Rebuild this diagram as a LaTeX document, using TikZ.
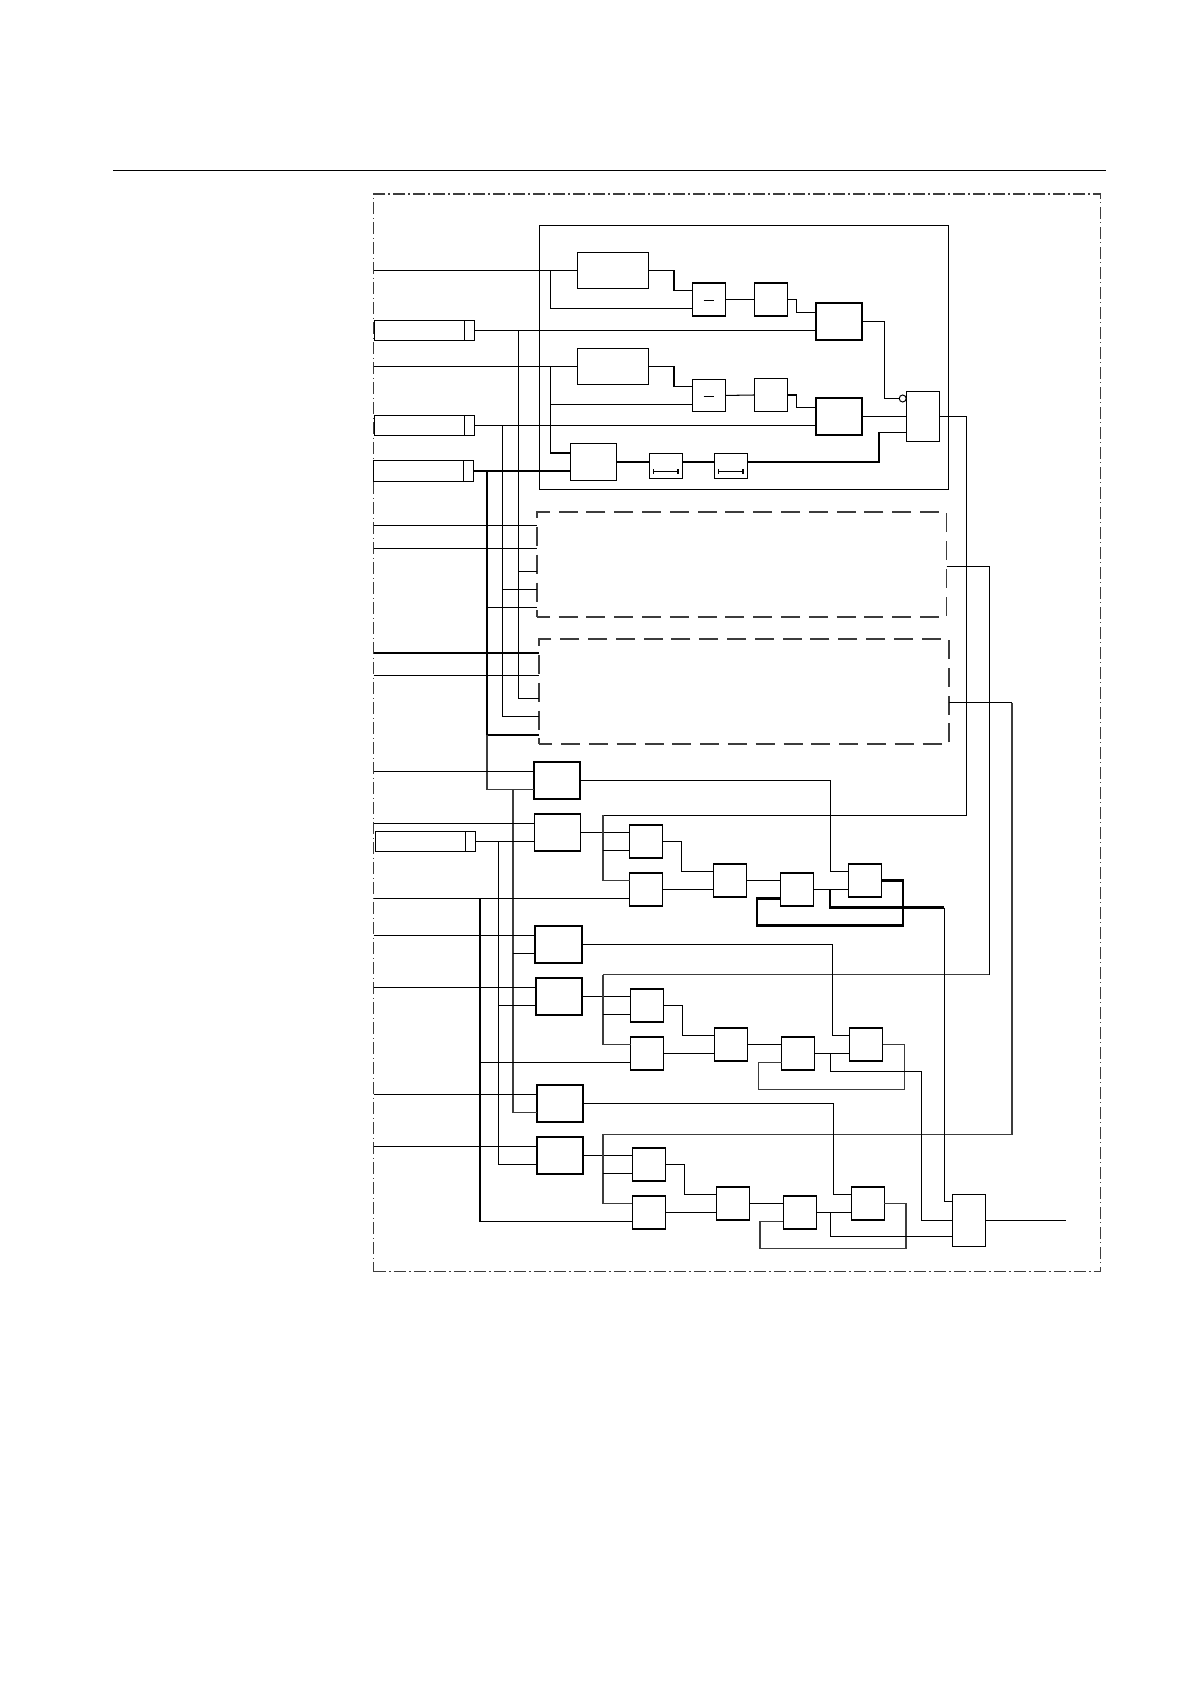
\documentclass[tikz,border=0pt]{standalone}
\usetikzlibrary{calc, positioning}
\definecolor{ruleink}{RGB}{60,60,60}
\tikzset{
  blk/.style={draw, inner sep=0pt, outer sep=0pt, line width=0.55pt},
  heavyblk/.style={blk, line width=0.95pt},
  wire/.style={line width=0.52pt},
  busline/.style={line width=1.05pt},
  grayline/.style={line width=0.8pt, ruleink},
  dashbox/.style={blk, ruleink, line width=0.85pt, dash pattern=on 9.5pt off 4.4pt, dash phase=3pt},
  frameline/.style={blk, ruleink, line width=0.7pt, dash pattern=on 6pt off 1.8pt on 0.7pt off 1.5pt},
}
\begin{document}
\begin{tikzpicture}[x=0.5pt, y=-0.5pt]
  \def\u{0.5pt}
  \useasboundingbox (0,0) rectangle (1191,1684);
  % page rule and outer frame
  \coordinate (ruleL) at (113.3,170.3);
  \coordinate (ruleR) at (1105.7,170.3);
  \draw[wire] (ruleL) -- (ruleR);
  \node[frameline, minimum width=727*\u, minimum height=1077.7*\u] (frame) at (737.2,732.85) {};
  \node[blk, minimum width=409.4*\u, minimum height=264*\u] (unit) at (744,357.3) {};
  % dashed units
  \node[dashbox, minimum width=409.8*\u, minimum height=104.7*\u] (Dashone) at (741.7,564.35) {};
  \node[dashbox, minimum width=409.4*\u, minimum height=104.7*\u] (Dashtwo) at (744,691.65) {};
  \foreach \d in {Dashone,Dashtwo} {
    \foreach \p/\o in {a/-39,b/-16,c/7,d/25,e/43} {
      \coordinate (\d-\p) at ($(\d.west)+(0,\o)$);
    }
  }
  \coordinate (Dashone-out) at ($(Dashone.east)+(0,2)$);
  \coordinate (Dashtwo-out) at ($(Dashtwo.east)+(0,11)$);
  % registers on the left
  \foreach \n/\x/\y in {Rone/424.3/330.45,Rtwo/424.3/425.5,Rthree/423.3/471,Rfour/425.5/841.5} {
    \node[blk, minimum width=100*\u, minimum height=20.4*\u] (\n) at (\x,\y) {};
    \draw[wire] ($(\n.north east)+(-10,0)$) -- ($(\n.south east)+(-10,0)$);
  }
  % blocks of the upper unit
  \foreach \n/\x/\y/\w/\h in {Aone/612.8/270.5/71/36.7,Atwo/612.8/366.4/71/36,
      Subone/708.8/299.5/33/33,Subtwo/708.8/395.45/33/32.4,
      Delone/771/299.5/33.4/33,Deltwo/771/395/33.4/33,
      Bone/593.7/462/46/36.3,Tone/665.7/465.8/32.7/25,Ttwo/730.7/465.8/32.7/25,
      Orb/923/416.5/32.6/50} {
    \node[blk, minimum width=\w*\u, minimum height=\h*\u] (\n) at (\x,\y) {};
  }
  \node[heavyblk, minimum width=46.6*\u, minimum height=36.3*\u] (Andone) at (839,321.45) {};
  \node[heavyblk, minimum width=46.6*\u, minimum height=37.3*\u] (Andtwo) at (839,416.5) {};
  \node[draw, circle, inner sep=0pt, line width=0.5pt, minimum size=7*\u] (Notb) at ($(Orb.west)+(-4,-18)$) {};
  \coordinate (Orb-c) at ($(Orb.west)+(0,16)$);
  % signs inside the blocks
  \foreach \n in {Subone,Subtwo} {
    \draw[wire] ($(\n.center)+(-5.3,1)$) -- ($(\n.center)+(5.3,1)$);
  }
  \foreach \n in {Tone,Ttwo} {
    \draw[wire] ($(\n.center)+(-12,6)$) -- ($(\n.center)+(12,6)$);
    \draw[wire] ($(\n.center)+(-12,3.5)$) -- ($(\n.center)+(-12,8.5)$);
    \draw[line width=0.9pt] ($(\n.center)+(12,3.5)$) -- ($(\n.center)+(12,8.5)$);
  }
  % output block
  \node[blk, minimum width=33*\u, minimum height=51.4*\u] (Kout) at (969.2,1220.5) {};
  \coordinate (Kout-a) at ($(Kout.west)+(0,-19)$);
  \coordinate (Kout-c) at ($(Kout.west)+(0,16)$);
  \coordinate (Kend) at (1065.7,1220.5);
  % the three lower rows
  \foreach \r/\dx/\dy/\tk in {one/0/0/0.55pt,two/1.3/164/0.95pt,three/2.8/323/0.95pt} {
    \node[heavyblk, minimum width=46.3*\u, minimum height=37*\u] (E\r) at (557.2+\dx,780.5+\dy) {};
    \node[blk, line width=\tk, minimum width=46*\u, minimum height=37*\u] (S\r) at (557.5+\dx,832.5+\dy) {};
    \foreach \n/\x/\y in {Ca/646/841.5,Cb/646/889.5,G/730/880.5,H/796.8/889.5,F/864.8/880.5} {
      \node[blk, minimum size=33*\u] (\n\r) at (\x+\dx,\y+\dy) {};
    }
    \foreach \n in {E,S,Ca,Cb,G,H,F} {
      \coordinate (\n\r-a) at ($(\n\r.west)+(0,-9)$);
      \coordinate (\n\r-b) at ($(\n\r.west)+(0,9)$);
    }
  }
  \foreach \n in {Subone,Subtwo,Andone,Andtwo,Bone} {
    \coordinate (\n-a) at ($(\n.west)+(0,-9)$);
    \coordinate (\n-b) at ($(\n.west)+(0,9)$);
  }
  % bus columns
  \coordinate (busA) at (518.3,330.45);
  \coordinate (busB) at (502.3,425.5);
  \coordinate (busC) at (487,471);
  \coordinate (busD) at (513,789.5);
  \coordinate (busE) at (498.3,841.5);
  \coordinate (busF) at (479.7,898.5);
  \coordinate (branch) at (550.3,270.5);
  \coordinate (tap) at (830.3,900);
  \coordinate (upone) at (966.7,815.4);
  \coordinate (uptwo) at (989.3,974.5);
  \coordinate (upthree) at (1012,1134.4);
  \coordinate (retone) at (603,815.4);
  \coordinate (rettwo) at (603,974.5);
  \coordinate (retthree) at (603,1134.4);
  \coordinate (dropone) at (944.3,907.5);
  \coordinate (droptwo) at (921.3,1071.5);
  % upper unit wiring
  \draw[wire] (frame.west |- Aone.west) -- (Aone.west);
  \draw[wire] (frame.west |- Atwo.west) -- (Atwo.west);
  \draw[wire] (branch) |- (Subone-b);
  \draw[wire] (branch |- Atwo.west) |- (Bone-a);
  \draw[wire] (branch |- Subtwo-b) -- (Subtwo-b);
  \foreach \k in {one,two} {
    \draw[wire] (A\k.east) -- ++(25.7,0) |- (Sub\k-a);
    \draw[wire] (Sub\k.east) -- (Del\k.west);
    \draw[wire] (Del\k.east) -- ++(9,0) |- (And\k-a);
    \draw[wire] (R\k.east) -- (And\k-b);
  }
  \draw[busline] (Rthree.east) -- (Bone-b);
  \draw[busline] (Bone.east) -- (Tone.west |- Bone.east);
  \draw[busline] (Tone.east |- Bone.east) -- (Ttwo.west |- Bone.east);
  \draw[busline] (Ttwo.east |- Bone.east) -| ($(Orb-c)+(-27.4,0)$);
  \draw[wire] ($(Orb-c)+(-27.4,0)$) -- (Orb-c);
  \draw[wire] (Andone.east) -- ++(22,0) |- (Notb.west);
  \draw[wire] (Andtwo.east) -- (Orb.west);
  % buses into the dashed units
  \foreach \p in {a,b} {
    \draw[wire] (frame.west |- Dashone-\p) -- (Dashone-\p);
  }
  \draw[busline] (frame.west |- Dashtwo-a) -- (Dashtwo-a);
  \draw[wire] (frame.west |- Dashtwo-b) -- (Dashtwo-b);
  \draw[wire] (busA |- Dashone-c) -- (Dashone-c);
  \draw[wire] (busB |- Dashone-d) -- (Dashone-d);
  \draw[wire] (busC |- Dashone-e) -- (Dashone-e);
  \draw[wire] (busA) |- (Dashtwo-c);
  \draw[wire] (busB) |- (Dashtwo-d);
  \draw[busline] (busC) |- (Dashtwo-e);
  \draw[grayline] (busC |- Dashtwo-e) |- (Eone-b);
  \draw[grayline] (busD) |- (Ethree-b);
  \draw[wire] (busD |- Etwo-b) -- (Etwo-b);
  % returns to the lower rows
  \draw[wire] (Orb.east) -| (upone) -- (retone);
  \draw[wire] (Dashone-out) -| (uptwo);
  \draw[grayline] (uptwo) -- (rettwo);
  \draw[wire] (Dashtwo-out) -- (upthree |- Dashtwo-out);
  \draw[grayline] (upthree |- Dashtwo-out) -- (upthree) -- (retthree);
  % lower row wiring
  \foreach \r in {one,two,three} {
    \draw[wire] (frame.west |- E\r-a) -- (E\r-a);
    \draw[wire] (frame.west |- S\r-a) -- (S\r-a);
    \draw[wire] (E\r.east) -| ($(F\r-a)+(-17.5,0)$) -- (F\r-a);
    \draw[wire] (S\r.east) -- (Ca\r-a);
    \draw[grayline] (ret\r) |- (Cb\r-a);
    \draw[wire] (ret\r |- Ca\r-b) -- (Ca\r-b);
    \draw[wire] (Ca\r.east) -- ++(19,0) |- (G\r-a);
    \draw[wire] (Cb\r.east) -- (G\r-b);
    \draw[wire] (G\r.east) -- (H\r-a);
    \draw[wire] (H\r.east) -- (F\r-b);
  }
  \draw[busline] (Fone.east) -- ++(22,0) |- ($(Hone-b)+(-23,27)$) |- (Hone-b);
  \draw[grayline] (Ftwo.east) -- ++(22,0) |- ($(Htwo-b)+(-23,27)$) |- (Htwo-b);
  \draw[grayline] (Fthree.east) -- ++(22,0) |- ($(Hthree-b)+(-23,27)$) |- (Hthree-b);
  \draw[wire] (Rfour.east) -- (Sone-b);
  \draw[wire] (busE) |- (Sthree-b);
  \draw[wire] (busE |- Stwo-b) -- (Stwo-b);
  \draw[busline] (busF) -- (busF |- Cbthree-b);
  \draw[wire] (busF |- Cbthree-b) -- (Cbthree-b);
  \draw[wire] (busF |- Cbtwo-b) -- (Cbtwo-b);
  \draw[wire] (frame.west |- Cbone-b) -- (Cbone-b);
  % tails into the output block
  \draw[busline] (tap |- Hone.east) |- (dropone);
  \draw[wire] (dropone) |- (Kout-a);
  \draw[wire] (tap |- Htwo.east) |- (droptwo) |- (Kout.west);
  \draw[wire] (tap |- Hthree.east) |- (Kout-c);
  \draw[wire] (Kout.east) -- (Kend);
\end{tikzpicture}
\end{document}
